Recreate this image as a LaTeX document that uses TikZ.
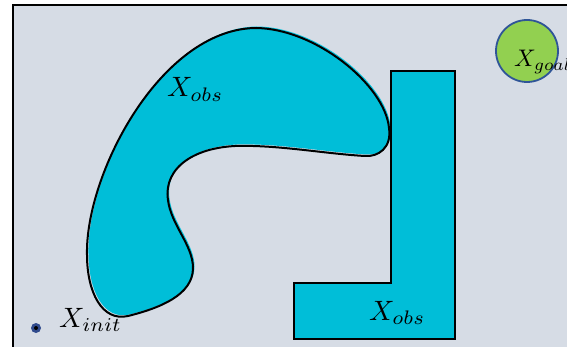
\documentclass[tikz,border=0pt]{standalone}
\definecolor{bg}{HTML}{D6DCE5}
\definecolor{obs}{HTML}{00BED8}
\definecolor{goalc}{HTML}{92D050}
\definecolor{goalb}{HTML}{2F5597}
\definecolor{initc}{HTML}{2F4A8C}
\tikzset{
  lbl/.style={anchor=base west, inner sep=0pt},
  obsshape/.style={fill=obs, draw=black, line width=2.2pt},
}
\def\blobpath{(255,28) .. controls (315,28) and (385,85) .. (389,128)
 .. controls (392,148) and (378,157) .. (365,156)
 .. controls (330,154) and (290,147) .. (253,146)
 .. controls (195,143) and (163,168) .. (168,200)
 .. controls (171,225) and (193,245) .. (193,268)
 .. controls (193,295) and (160,308) .. (128,316)
 .. controls (102,322) and (87,292) .. (87,255)
 .. controls (85,175) and (160,30) .. (255,28) -- cycle}
\begin{document}
\begin{tikzpicture}[x=1pt,y=-1pt]
\useasboundingbox (0,0) rectangle (567,347);
\fill[bg] (13,5) rectangle (575,355);
\draw[line width=2pt] (13,355) -- (13,5) -- (575,5);
% curved obstacle
\fill[obs, shift={(1.5,-1.5)}] \blobpath;
\draw[line width=2pt, line join=round] \blobpath;
% L obstacle
\draw[obsshape] (391,71) -- (455,71) -- (455,339) -- (294,339) -- (294,283) -- (391,283) -- cycle;
% goal
\node[circle, draw=goalb, fill=goalc, line width=1.8pt, minimum size=62pt, inner sep=0pt] (goal) at (527,51) {};
\node[lbl] (goallbl) at (514,67) {\scalebox{2.4}{$X_{goal}$}};
% labels
\node[lbl] (obs1) at (167,97) {\scalebox{2.8}{$X_{obs}$}};
\node[lbl] (obs2) at (369,320) {\scalebox{2.8}{$X_{obs}$}};
% init
\node[circle, fill=initc, minimum size=10pt, inner sep=0pt] (init) at (36,328) {};
\fill[black] (init.center) circle (2pt);
\node[lbl] (initlbl) at (59,327) {\scalebox{2.8}{$X_{init}$}};
\end{tikzpicture}
\end{document}
